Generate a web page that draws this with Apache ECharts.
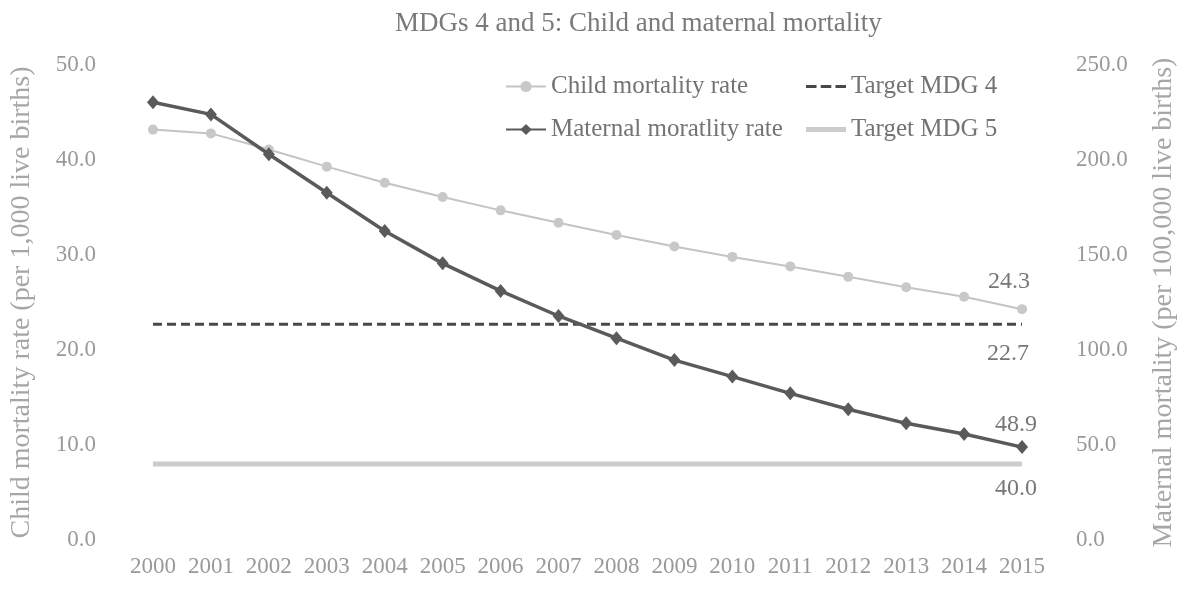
<!DOCTYPE html>
<html>
<head>
<meta charset="utf-8">
<script src="https://cdn.jsdelivr.net/npm/echarts@6/dist/echarts.min.js"></script>
<style>
  html, body { margin: 0; padding: 0; background: #ffffff; }
  #chart { width: 1186px; height: 589px; }
</style>
</head>
<body>
<div id="chart"></div>
<script>
// Years on the category axis
const years = ['2000','2001','2002','2003','2004','2005','2006','2007',
               '2008','2009','2010','2011','2012','2013','2014','2015'];

// Under-five mortality (per 1,000 live births), left axis
const childMortality = [43.2, 42.8, 41.1, 39.3, 37.6, 36.1, 34.7, 33.4,
                        32.1, 30.9, 29.8, 28.8, 27.7, 26.6, 25.6, 24.3];

// Maternal mortality (per 100,000 live births), right axis
const maternalMortality = [230.4, 224.0, 203.0, 182.8, 162.6, 145.6, 131.1, 117.9,
                           106.2, 94.7, 86.0, 77.2, 68.8, 61.4, 55.8, 48.9];

// MDG targets, constant over the period
const targetMdg4 = [22.7, 22.7, 22.7, 22.7, 22.7, 22.7, 22.7, 22.7,
                    22.7, 22.7, 22.7, 22.7, 22.7, 22.7, 22.7, 22.7];
const targetMdg5 = [40.0, 40.0, 40.0, 40.0, 40.0, 40.0, 40.0, 40.0,
                    40.0, 40.0, 40.0, 40.0, 40.0, 40.0, 40.0, 40.0];

const leftTicks = { min: 0, max: 50, interval: 10 };
const rightTicks = { min: 0, max: 250, interval: 50 };

const FONT = '"Liberation Serif", "Times New Roman", serif';

// Put a value label on the final point only
function lastLabelled(values, labelOpts) {
  const last = values.length - 1;
  return values.map((v, i) => i === last
    ? { value: v, label: Object.assign({ show: true, formatter: (p) => p.value.toFixed(1) }, labelOpts) }
    : v);
}

const labelBase = { fontFamily: FONT, fontSize: 24, color: '#777777' };
const legendText = { fontFamily: FONT, fontSize: 25, lineHeight: 25, color: '#737373', padding: [0, 0, 0, 0] };

// Plain line icons for the two target series in the legend
const dashIcon = 'path://M0,0h10v3h-10z M14,0h10v3h-10z M28,0h10v3h-10z';
const barIcon = 'path://M0,0h40v5h-40z';

const chart = echarts.init(document.getElementById('chart'), null, { renderer: 'canvas' });

chart.setOption({
  backgroundColor: '#ffffff',
  animation: false,
  title: {
    text: 'MDGs 4 and 5: Child and maternal mortality',
    left: 390,
    top: 5,
    textStyle: { fontFamily: FONT, fontSize: 27, fontWeight: 'normal', color: '#7a7a7a' }
  },
  legend: [
    {
      orient: 'vertical',
      left: 500,
      top: 69,
      itemWidth: 40,
      itemHeight: 14,
      itemGap: 18,
      data: ['Child mortality rate', 'Maternal moratlity rate'],
      textStyle: legendText
    },
    {
      orient: 'vertical',
      left: 801,
      top: 69,
      itemWidth: 40,
      itemHeight: 14,
      itemGap: 18,
      data: [
        { name: 'Target MDG 4', icon: dashIcon },
        { name: 'Target MDG 5', icon: barIcon }
      ],
      textStyle: legendText
    }
  ],
  grid: { left: 121, right: 135, top: 65, bottom: 49, containLabel: false },
  xAxis: {
    type: 'category',
    data: years,
    boundaryGap: true,
    axisLine: { show: false },
    axisTick: { show: false },
    axisLabel: { fontFamily: FONT, fontSize: 23, color: '#999999', margin: 15, interval: 0 }
  },
  yAxis: [
    {
      type: 'value',
      min: leftTicks.min, max: leftTicks.max, interval: leftTicks.interval,
      name: 'Child mortality rate (per 1,000 live births)',
      nameLocation: 'middle',
      nameRotate: 90,
      nameGap: 88,
      nameTextStyle: { fontFamily: FONT, fontSize: 28, color: '#a6a6a6' },
      axisLine: { show: false },
      axisTick: { show: false },
      splitLine: { show: false },
      axisLabel: { fontFamily: FONT, fontSize: 23, color: '#999999', margin: 28,
                   formatter: (v) => v.toFixed(1) }
    },
    {
      type: 'value',
      position: 'right',
      min: rightTicks.min, max: rightTicks.max, interval: rightTicks.interval,
      name: 'Maternal mortality (per 100,000 live births)',
      nameLocation: 'middle',
      nameRotate: 90,
      nameGap: 99,
      nameTextStyle: { fontFamily: FONT, fontSize: 28, color: '#a6a6a6' },
      axisLine: { show: false },
      axisTick: { show: false },
      splitLine: { show: false },
      axisLabel: { fontFamily: FONT, fontSize: 23, color: '#999999', margin: 25,
                   formatter: (v) => v.toFixed(1) }
    }
  ],
  series: [
    {
      name: 'Target MDG 5',
      type: 'line',
      yAxisIndex: 1,
      data: lastLabelled(targetMdg5, Object.assign({ position: 'bottom', distance: 13, offset: [-6, 0] }, labelBase)),
      symbol: 'circle',
      symbolSize: 0,
      lineStyle: { color: '#cccccc', width: 5 },
      itemStyle: { color: '#cccccc' },
      z: 1
    },
    {
      name: 'Target MDG 4',
      type: 'line',
      yAxisIndex: 0,
      data: lastLabelled(targetMdg4, Object.assign({ position: 'bottom', distance: 17, offset: [-14, 0] }, labelBase)),
      symbol: 'circle',
      symbolSize: 0,
      lineStyle: { color: '#484848', width: 3, type: [9, 5] },
      itemStyle: { color: '#484848' },
      z: 2
    },
    {
      name: 'Child mortality rate',
      type: 'line',
      yAxisIndex: 0,
      data: lastLabelled(childMortality, Object.assign({ position: 'top', distance: 10, offset: [-13, 0] }, labelBase)),
      symbol: 'circle',
      symbolSize: 10,
      showSymbol: true,
      lineStyle: { color: '#c4c4c4', width: 2 },
      itemStyle: { color: '#c8c8c8' },
      z: 3
    },
    {
      name: 'Maternal moratlity rate',
      type: 'line',
      yAxisIndex: 1,
      data: lastLabelled(maternalMortality, Object.assign({ position: 'top', distance: 3, offset: [-6, 0] }, labelBase)),
      symbol: 'diamond',
      symbolSize: [12, 14],
      showSymbol: true,
      lineStyle: { color: '#5a5a5a', width: 3.5 },
      itemStyle: { color: '#5a5a5a' },
      z: 4
    }
  ]
});
</script>
</body>
</html>
